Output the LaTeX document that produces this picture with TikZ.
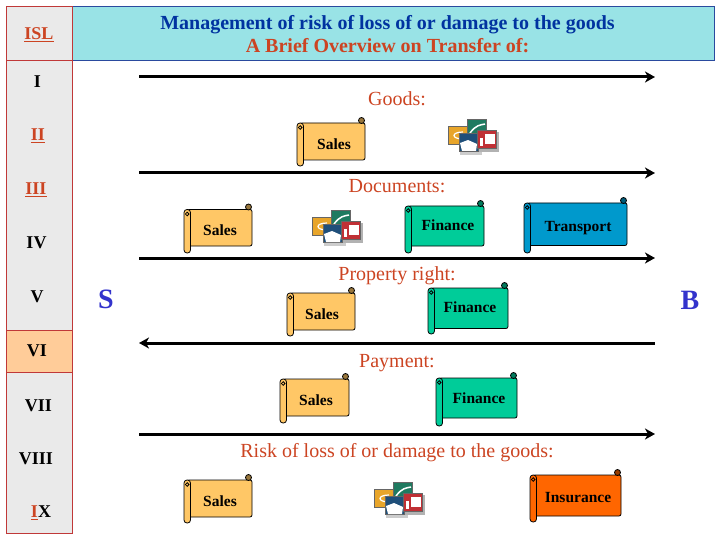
\documentclass[tikz,border=0pt]{standalone}
\usepackage{fontspec}
\setmainfont{Liberation Serif}
\usepackage{tikz}
\usetikzlibrary{arrows.meta}

\definecolor{titleblue}{HTML}{0033A0}
\definecolor{titlered}{HTML}{CC4422}
\definecolor{partyblue}{HTML}{3333CC}
\definecolor{cellgrey}{HTML}{EAEAEA}
\definecolor{cellorange}{HTML}{FFCC99}
\definecolor{cellred}{HTML}{C03838}
\definecolor{headcyan}{HTML}{99E3E6}
\definecolor{headline}{HTML}{2A4A9E}
\definecolor{salesfill}{HTML}{FFC766}
\definecolor{financefill}{HTML}{00CC99}
\definecolor{transportfill}{HTML}{0099CC}
\definecolor{insurancefill}{HTML}{FF6600}
\definecolor{cargoorange}{HTML}{E8A52A}
\definecolor{cargogreen}{HTML}{1F7A60}
\definecolor{cargoblue}{HTML}{1F4F7A}
\definecolor{cargored}{HTML}{C03035}

\tikzset{
  cell/.style={draw=cellred, line width=0.9pt},
  romantext/.style={font=\fontsize{18}{18}\selectfont\bfseries, inner sep=0pt},
  steptext/.style={font=\fontsize{20}{20}\selectfont, text=titlered, inner sep=0pt, anchor=base},
  scrolltext/.style={font=\fontsize{15.5}{15.5}\selectfont\bfseries, inner sep=0pt},
  partytext/.style={font=\fontsize{28}{28}\selectfont\bfseries, text=partyblue, inner sep=0pt},
  flow/.style={line width=3pt},
  flowtip/.style={-{Stealth[length=10pt,width=11pt,inset=3pt]}},
  flowback/.style={{Stealth[length=10pt,width=11pt,inset=3pt]}-},
  scrollline/.style={draw=black, line width=0.8pt},
  pics/cargo/.style={code={
    \fill[black!20] (12,30) rectangle (34,36);
    \fill[black!30] (46,13) rectangle (51,33);
    \fill[black!30] (30,29) rectangle (51,33);
    \draw[draw=black!60, fill=cargoorange] (0,7) rectangle (19,25);
    \draw[white, line width=1.2pt] (15,13) .. controls (3,13) and (3,20) .. (15,20);
    \draw[draw=black!60, fill=cargogreen] (19,0) rectangle (38,19);
    \draw[white, line width=1.5pt] (22,14) .. controls (28,6) and (32,6) .. (37,5);
    \draw[draw=black!60, fill=cargoblue] (11,14) rectangle (30,32);
    \fill[white] (12,24) -- (20,21) -- (29,25) -- (28,32) -- (14,32) -- cycle;
    \draw[draw=black!60, fill=cargored] (29,11) rectangle (48,29);
    \fill[white] (37,15) rectangle (47,25);
    \fill[white] (32,19) rectangle (35,27);
  }}
}

% left, top, right, bottom of the body, bottom of the roll, colour
\newcommand{\scrollshape}[6]{
  \draw[scrollline, fill=#6, rounded corners=2pt] (#1+3,#2) -- (#3,#2) -- (#3,#4) -- (#1+3,#4) -- cycle;
  \draw[scrollline, fill=#6!60!black] (#3-3.5,#2-2.5) circle (3);
  \draw[scrollline, fill=#6, rounded corners=3pt] (#1,#2) rectangle (#1+6.5,#5);
  \draw[scrollline] (#1+3.2,#2+4.5) circle (1.8);
}

\begin{document}
\begin{tikzpicture}[x=1pt, y=-1pt]
    \useasboundingbox (0,0) rectangle (720,540);

    % Header and left column
    \draw[draw=headline, fill=headcyan, line width=0.9pt] (72.5,6.5) rectangle (714.5,60.5);
    \draw[cell, fill=cellgrey] (6.5,6.5) rectangle (72.5,60.5);
    \draw[cell, fill=cellgrey] (6.5,60.5) rectangle (72.5,330.5);
    \draw[cell, fill=cellorange] (6.5,330.5) rectangle (72.5,372.5);
    \draw[cell, fill=cellgrey] (6.5,372.5) rectangle (72.5,533.5);

    \node[font=\fontsize{20}{23}\selectfont\bfseries, align=center, inner sep=0pt] (H_TT) at (387.5,34.5)
      {\textcolor{titleblue}{Management of risk of loss of or damage to the goods}\\
       \textcolor{titlered}{A Brief Overview on Transfer of:}};

    \node[romantext, text=titlered] (L_ISL) at (39,35) {\underline{ISL}};
    \node[romantext] (L_I) at (37.5,82) {I};
    \node[romantext, text=titlered] (L_II) at (38,136) {\underline{II}};
    \node[romantext, text=titlered] (L_III) at (36,190) {\underline{III}};
    \node[romantext] (L_IV) at (36.5,243) {IV};
    \node[romantext] (L_V) at (37,297) {V};
    \node[romantext] (L_VI) at (37,351) {VI};
    \node[romantext] (L_VII) at (38.5,406) {VII};
    \node[romantext] (L_VIII) at (36,459) {VIII};
    \node[romantext] (L_IX) at (41,513) {\textcolor{titlered}{\underline{I}}X};

    % Seller and buyer
    \node[partytext] (P_S) at (106,299) {S};
    \node[partytext] (P_B) at (690,300) {B};

    % Arrows
    \coordinate (A_S1) at (139,77);  \coordinate (A_B1) at (655,77);
    \coordinate (A_S2) at (139,173); \coordinate (A_B2) at (655,173);
    \coordinate (A_S3) at (139,258); \coordinate (A_B3) at (655,258);
    \coordinate (A_S4) at (139,343); \coordinate (A_B4) at (655,343);
    \coordinate (A_S5) at (139,434); \coordinate (A_B5) at (655,434);
    \draw[flow, flowtip] (A_S1) -- (A_B1);
    \draw[flow, flowtip] (A_S2) -- (A_B2);
    \draw[flow, flowtip] (A_S3) -- (A_B3);
    \draw[flow, flowback] (A_S4) -- (A_B4);
    \draw[flow, flowtip] (A_S5) -- (A_B5);

    % Headings above the rows
    \node[steptext] (T_GD) at (397,106) {Goods:};
    \node[steptext] (T_DC) at (397,193) {Documents:};
    \node[steptext] (T_PR) at (397,280) {Property right:};
    \node[steptext] (T_PM) at (397,367.5) {Payment:};
    \node[steptext] (T_RK) at (397,457.5) {Risk of loss of or damage to the goods:};

    % Scrolls
    \scrollshape{297}{123}{365}{160}{166}{salesfill}
    \scrollshape{184}{209.5}{252}{246}{253}{salesfill}
    \scrollshape{405}{206}{484}{246}{253}{financefill}
    \scrollshape{524}{203}{627}{245.5}{253}{transportfill}
    \scrollshape{287}{293}{355}{330}{336}{salesfill}
    \scrollshape{428}{288}{508}{328.5}{334}{financefill}
    \scrollshape{280}{379}{349}{416}{423}{salesfill}
    \scrollshape{436}{378}{517}{418}{426}{financefill}
    \scrollshape{184}{480}{252}{517}{523}{salesfill}
    \scrollshape{530}{475}{621}{516}{522}{insurancefill}

    \node[scrolltext] (S_GD) at (334,144) {Sales};
    \node[scrolltext] (S_DC) at (220,230) {Sales};
    \node[scrolltext] (F_DC) at (448,225) {Finance};
    \node[scrolltext] (R_DC) at (578,228) {Transport};
    \node[scrolltext] (S_PR) at (322,314) {Sales};
    \node[scrolltext] (F_PR) at (470,307) {Finance};
    \node[scrolltext] (S_PM) at (316,400) {Sales};
    \node[scrolltext] (F_PM) at (479,398) {Finance};
    \node[scrolltext] (S_RK) at (220,501) {Sales};
    \node[scrolltext] (N_RK) at (578,498) {Insurance};

    % Cargo icons
    \pic (C_GD) at (448,119) {cargo};
    \pic (C_DC) at (312,210) {cargo};
    \pic (C_RK) at (374,482) {cargo};
\end{tikzpicture}
\end{document}
